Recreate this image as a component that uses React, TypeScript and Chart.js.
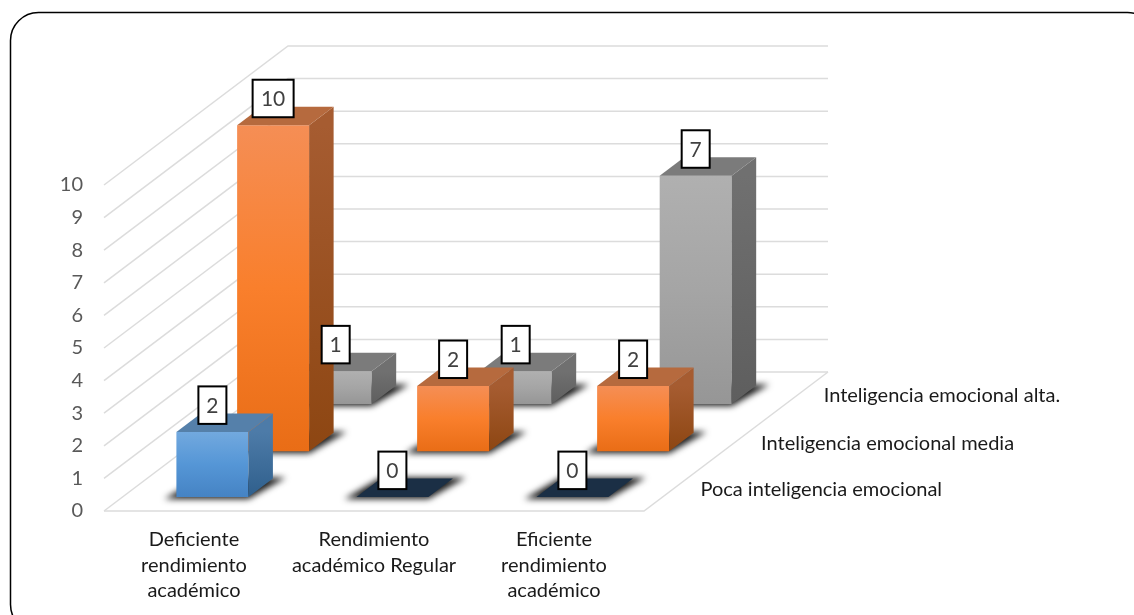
import React, { useEffect, useRef } from "react";
import { Chart, registerables } from "chart.js";

Chart.register(...registerables);

const categories = [
  ["Deficiente", "rendimiento", "académico"],
  ["Rendimiento", "académico Regular"],
  ["Eficiente", "rendimiento", "académico"],
];
const poca = [2, 0, 0];
const media = [10, 2, 2];
const alta = [1, 1, 7];
const seriesNames = [
  "Poca inteligencia emocional",
  "Inteligencia emocional media",
  "Inteligencia emocional alta.",
];
const yTicks = [0, 1, 2, 3, 4, 5, 6, 7, 8, 9, 10];

const FONT = "Lato, Carlito, sans-serif";
const DEPTH_X = 184;
const DEPTH_Y = -139;
const BAR_SIDE_X = 24.5;
const BAR_SIDE_Y = -18.5;
const ROW_DEPTH = [0.1, 0.43, 0.77];

type Palette = {
  front: [string, string, string];
  side: [string, string];
  top: string;
  zero: string;
};
const palettes: Palette[] = [
  { front: ["#72a9df", "#5596d6", "#4583c4"], side: ["#4d7ba8", "#2f5f8c"], top: "#5580aa", zero: "#1b2f45" },
  { front: ["#f58e55", "#f97f2c", "#e96d16"], side: ["#a65c31", "#8d4612"], top: "#b66a3e", zero: "#7a3c10" },
  { front: ["#b0b0b0", "#a5a5a5", "#969696"], side: ["#707070", "#5e5e5e"], top: "#7b7b7b", zero: "#555555" },
];

const frontFill = (series: number) => (c: any) => {
  const p = palettes[series].front;
  const y = c.chart.scales.y;
  const raw = typeof c.raw === "number" ? c.raw : 1;
  if (!y) return p[1];
  const py = y.getPixelForValue(raw);
  const pb = y.getPixelForValue(0);
  if (!Number.isFinite(py) || !Number.isFinite(pb)) return p[1];
  const g = c.chart.ctx.createLinearGradient(0, py, 0, pb);
  g.addColorStop(0, p[0]);
  g.addColorStop(0.5, p[1]);
  g.addColorStop(1, p[2]);
  return g;
};

const poly = (ctx: CanvasRenderingContext2D, pts: number[][]) => {
  ctx.beginPath();
  pts.forEach((p, i) => (i ? ctx.lineTo(p[0], p[1]) : ctx.moveTo(p[0], p[1])));
  ctx.closePath();
};

const scene = {
  id: "scene",
  beforeDraw(chart: any) {
    const ctx: CanvasRenderingContext2D = chart.ctx;
    ctx.save();
    ctx.fillStyle = "#ffffff";
    ctx.fillRect(0, 0, chart.width, chart.height);
    ctx.beginPath();
    ctx.roundRect(10.5, 12.5, 1145, 620, 28);
    ctx.strokeStyle = "#000000";
    ctx.lineWidth = 1.5;
    ctx.stroke();
    ctx.restore();
  },
  beforeDatasetsDraw(chart: any) {
    const ctx: CanvasRenderingContext2D = chart.ctx;
    const { x, y } = chart.scales;
    const l = x.left;
    const r = x.right;
    ctx.save();
    ctx.strokeStyle = "#dcdcdc";
    ctx.lineWidth = 1.5;
    yTicks.forEach((v) => {
      const py = y.getPixelForValue(v);
      ctx.beginPath();
      ctx.moveTo(l, py);
      ctx.lineTo(l + DEPTH_X, py + DEPTH_Y);
      ctx.lineTo(r + DEPTH_X, py + DEPTH_Y);
      ctx.stroke();
    });
    const y0 = y.getPixelForValue(0);
    ctx.beginPath();
    ctx.moveTo(l, y0);
    ctx.lineTo(r, y0);
    ctx.lineTo(r + DEPTH_X, y0 + DEPTH_Y);
    ctx.stroke();
    ctx.restore();
    // Series names along the right edge of the floor
    ctx.save();
    ctx.font = `20px ${FONT}`;
    ctx.fillStyle = "#1a1a1a";
    ctx.textBaseline = "middle";
    ctx.textAlign = "left";
    seriesNames.forEach((name, i) => {
      const d = ROW_DEPTH[i];
      ctx.fillText(name, r + d * DEPTH_X + 38, y0 + d * DEPTH_Y - 8);
    });
    ctx.restore();
  },
  beforeDatasetDraw(chart: any, args: any) {
    const ctx: CanvasRenderingContext2D = chart.ctx;
    const d = ROW_DEPTH[args.index];
    ctx.save();
    ctx.translate(d * DEPTH_X, d * DEPTH_Y);
    // soft shadow on the floor below each bar
    chart.getDatasetMeta(args.index).data.forEach((el: any) => {
      const x0 = el.x - el.width / 2;
      const x1 = el.x + el.width / 2;
      const b = el.base;
      ctx.save();
      ctx.filter = "blur(3px)";
      ctx.fillStyle = "#1c1c1c";
      poly(ctx, [
        [x0 - 12, b + 2],
        [x1, b + 2],
        [x1 + BAR_SIDE_X + 13, b + BAR_SIDE_Y - 1],
        [x0 + BAR_SIDE_X, b + BAR_SIDE_Y - 1],
      ]);
      ctx.fill();
      ctx.restore();
    });
  },
  afterDatasetDraw(chart: any, args: any) {
    const ctx: CanvasRenderingContext2D = chart.ctx;
    const p = palettes[args.index];
    const values = chart.data.datasets[args.index].data;
    chart.getDatasetMeta(args.index).data.forEach((el: any, i: number) => {
      const x0 = el.x - el.width / 2;
      const x1 = el.x + el.width / 2;
      const t = el.y;
      const b = el.base;
      if (values[i] > 0) {
        const g = ctx.createLinearGradient(0, t, 0, b);
        g.addColorStop(0, p.side[0]);
        g.addColorStop(1, p.side[1]);
        ctx.fillStyle = g;
        poly(ctx, [
          [x1, t],
          [x1 + BAR_SIDE_X, t + BAR_SIDE_Y],
          [x1 + BAR_SIDE_X, b + BAR_SIDE_Y],
          [x1, b],
        ]);
        ctx.fill();
      }
      ctx.fillStyle = values[i] > 0 ? p.top : p.zero;
      poly(ctx, [
        [x0, t],
        [x1, t],
        [x1 + BAR_SIDE_X, t + BAR_SIDE_Y],
        [x0 + BAR_SIDE_X, t + BAR_SIDE_Y],
      ]);
      ctx.fill();
    });
    ctx.restore();
  },
  afterDatasetsDraw(chart: any) {
    const ctx: CanvasRenderingContext2D = chart.ctx;
    ctx.save();
    ctx.font = `21px ${FONT}`;
    ctx.textAlign = "center";
    ctx.textBaseline = "middle";
    [2, 1, 0].forEach((s) => {
      const d = ROW_DEPTH[s];
      const values = chart.data.datasets[s].data;
      chart.getDatasetMeta(s).data.forEach((el: any, i: number) => {
        const label = String(values[i]);
        const w = label.length > 1 ? 41 : 28;
        const h = 37.5;
        const cx = el.x + d * DEPTH_X;
        const bottom = el.y + d * DEPTH_Y - 8;
        ctx.fillStyle = "#ffffff";
        ctx.fillRect(cx - w / 2, bottom - h, w, h);
        ctx.strokeStyle = "#000000";
        ctx.lineWidth = 2;
        ctx.strokeRect(cx - w / 2, bottom - h, w, h);
        ctx.fillStyle = "#404040";
        ctx.fillText(label, cx, bottom - h / 2 + 1);
      });
    });
    ctx.restore();
  },
};

export default function App() {
  const ref = useRef<HTMLCanvasElement>(null);
  useEffect(() => {
    if (!ref.current) return;
    const chart = new Chart(ref.current, {
      type: "bar",
      data: {
        labels: categories as any,
        datasets: [poca, media, alta].map((data, i) => ({
          label: seriesNames[i],
          data,
          backgroundColor: frontFill(i),
          borderWidth: 0,
          clip: false as any,
        })),
      },
      options: {
        responsive: false,
        animation: false,
        devicePixelRatio: 1,
        layout: { padding: { left: 0, right: 490, top: 185, bottom: 0 } },
        datasets: { bar: { grouped: false, categoryPercentage: 1, barPercentage: 0.4 } },
        plugins: { legend: { display: false }, tooltip: { enabled: false } },
        scales: {
          x: {
            grid: { display: false },
            border: { display: false },
            afterFit: (s: any) => {
              s.height = 104;
            },
            ticks: {
              autoSkip: false,
              maxRotation: 0,
              minRotation: 0,
              padding: 8,
              color: "#1a1a1a",
              font: { family: FONT, size: 20, lineHeight: 1.28 },
            },
          },
          y: {
            min: 0,
            max: 10,
            grid: { display: false },
            border: { display: false },
            afterFit: (s: any) => {
              s.width = 104;
            },
            ticks: {
              stepSize: 1,
              padding: 13,
              color: "#595959",
              font: { family: FONT, size: 20 },
            },
          },
        },
      },
      plugins: [scene],
    } as any);
    return () => chart.destroy();
  }, []);
  return (
    <div style={{ position: "absolute", left: 0, top: 0, width: 1134, height: 615, overflow: "hidden" }}>
      <canvas ref={ref} width={1134} height={615} style={{ display: "block" }} />
    </div>
  );
}
